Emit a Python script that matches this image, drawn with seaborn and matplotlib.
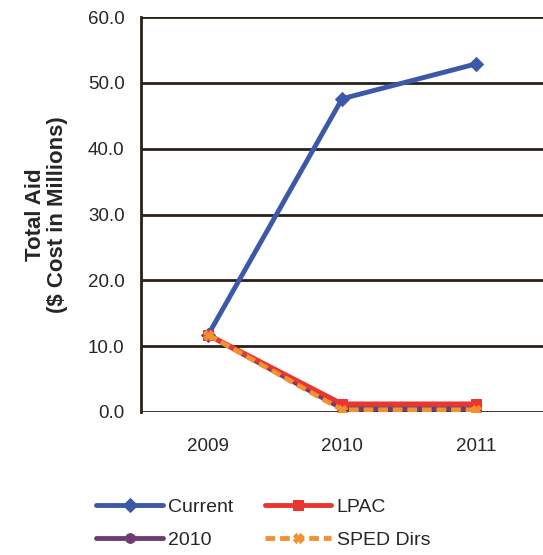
import pandas as pd
import matplotlib.pyplot as plt
import seaborn as sns
from matplotlib.ticker import FixedLocator

# Chart data
years = ["2009", "2010", "2011"]
current = [11.7, 47.6, 52.9]
aid_2010 = [11.7, 0.5, 0.5]
lpac = [11.7, 1.2, 1.2]
sped_dirs = [11.7, 0.3, 0.3]
y_ticks = [0, 10, 20, 30, 40, 50, 60]

series = {"Current": current, "2010": aid_2010, "LPAC": lpac, "SPED Dirs": sped_dirs}
rows = []
for name, vals in series.items():
    for yr, v in zip(years, vals):
        rows.append({"year": yr, "series": name, "value": v})
df = pd.DataFrame(rows)

sns.set_style("white")
plt.rcParams['font.family'] = ['Liberation Sans', 'DejaVu Sans']

fig = plt.figure(figsize=(5.43, 5.55), dpi=100)
ax = fig.add_axes([0.26, 0.258, 0.74, 0.711])

styles = {
    "Current": dict(color="#3d58a8", marker="D", linestyle="-", markersize=8),
    "2010": dict(color="#6e3e72", marker="o", linestyle="-", markersize=9),
    "LPAC": dict(color="#ea3530", marker="s", linestyle="-", markersize=8),
    "SPED Dirs": dict(color="#f4912f", marker="X", linestyle=(0, (2, 1)), markersize=9),
}

for name in ["Current", "2010", "LPAC", "SPED Dirs"]:
    st = styles[name]
    sns.lineplot(data=df[df["series"] == name], x="year", y="value", ax=ax,
                 color=st["color"], marker=st["marker"], linestyle=st["linestyle"],
                 markersize=st["markersize"], linewidth=3.5, label=name,
                 markeredgecolor=st["color"])

ax.set_xlim(-0.5, 2.5)
ax.set_ylim(0, 60)
ax.set_yticks(y_ticks)
ax.set_yticklabels([f"{t:.1f}" for t in y_ticks], fontsize=13.5)
ax.set_xticks(range(len(years)))
ax.set_xticklabels(years, fontsize=13.5)
ax.tick_params(axis="x", which="major", length=0, pad=19)
ax.xaxis.set_minor_locator(FixedLocator([-0.5, 0.5, 1.5, 2.5]))
ax.tick_params(axis="x", which="minor", length=4, width=1.5, color="#2a2118", direction="out")
ax.tick_params(axis="y", length=4, width=1.5, color="#2a2118", direction="out", pad=8)

ax.yaxis.grid(True, color="#2a2118", linewidth=2)
ax.set_axisbelow(True)
for s in ["top", "right", "bottom"]:
    ax.spines[s].set_visible(False)
ax.spines["left"].set_color("#2a2118")
ax.spines["left"].set_linewidth(2)

ax.set_xlabel("")
ax.set_ylabel("Total Aid\n($ Cost in Millions)", fontsize=16, fontweight="bold", labelpad=14,
              linespacing=1.1)

handles, labels = ax.get_legend_handles_labels()
for h in handles:
    h.set_markersize(7)
ax.get_legend().remove()
fig.legend(handles, labels, loc="center", bbox_to_anchor=(0.485, 0.057), ncol=2,
           frameon=False, fontsize=14, handlelength=3.4, columnspacing=1.6,
           labelspacing=0.8, handletextpad=0.3)

fig.savefig("out.png", dpi=100)
